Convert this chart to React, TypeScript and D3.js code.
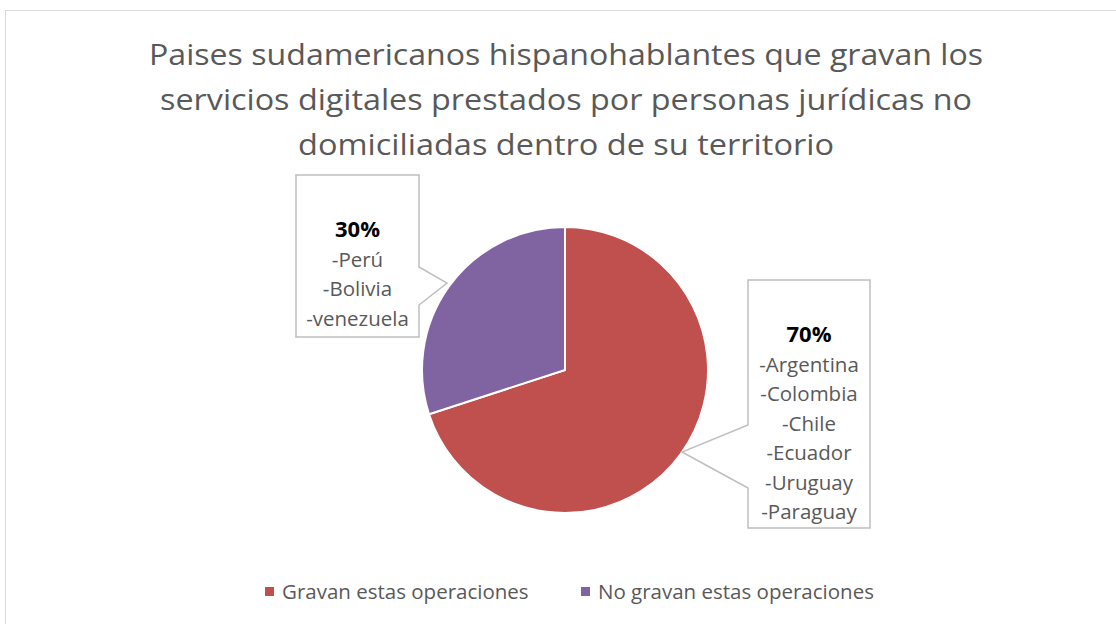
import React from "react";
import * as d3 from "d3";

const titleLines = [
  "Paises sudamericanos hispanohablantes que gravan los",
  "servicios digitales prestados por personas jurídicas no",
  "domiciliadas dentro de su territorio",
];
const categories = ["Gravan estas operaciones", "No gravan estas operaciones"];
const values = [70, 30];
const percentLabels = ["70%", "30%"];
const countryLists = [
  ["-Argentina", "-Colombia", "-Chile", "-Ecuador", "-Uruguay", "-Paraguay"],
  ["-Perú", "-Bolivia", "-venezuela"],
];
const colors = ["#C0504D", "#8064A2"];

const W = 1116;
const H = 624;
const FONT = "'Open Sans', 'Liberation Sans', sans-serif";

export default function App() {
  const cx = 565;
  const cy = 370;
  const r = 143;
  const pie = d3.pie<number>().sort(null).value((d) => d);
  const arcs = pie(values);
  const arc = d3.arc<d3.PieArcDatum<number>>().innerRadius(0).outerRadius(r);

  const boxes = [
    { x: 748, y: 280, w: 122, h: 248, side: "left", p0: 425, p1: 488 },
    { x: 296, y: 175, w: 123, h: 162, side: "right", p0: 267, p1: 305 },
  ];
  const tips = [
    [682, 452],
    [447, 283],
  ];

  return (
    <svg width={W} height={H} style={{ position: "absolute", left: 0, top: 0 }}>
      <rect x={0} y={0} width={W} height={H} fill="#fff" />
      <rect x={5.5} y={10.5} width={W + 20} height={H + 20} fill="#fff" stroke="#D9D9D9" strokeWidth={1} />
      {titleLines.map((t, i) => (
        <text key={i} x={566} y={65 + i * 45} textAnchor="middle" fontFamily={FONT} fontSize={30} fill="#595959"
          textLength={[834, 812, 536][i]} lengthAdjust="spacingAndGlyphs">
          {t}
        </text>
      ))}
      <g transform={`translate(${cx},${cy})`}>
        {arcs.map((a, i) => (
          <path key={i} d={arc(a) || ""} fill={colors[i]} stroke="#fff" strokeWidth={2} />
        ))}
      </g>
      {boxes.map((b, i) => {
        const [tx, ty] = tips[i];
        const d =
          b.side === "left"
            ? `M${b.x},${b.y} H${b.x + b.w} V${b.y + b.h} H${b.x} V${b.p1} L${tx},${ty} L${b.x},${b.p0} Z`
            : `M${b.x},${b.y} H${b.x + b.w} V${b.p0} L${tx},${ty} L${b.x + b.w},${b.p1} V${b.y + b.h} H${b.x} Z`;
        const lines = countryLists[i];
        const centerX = b.x + b.w / 2;
        const startY = i === 0 ? 342 : 237;
        return (
          <g key={i}>
            <path d={d} fill="#fff" stroke="#BFBFBF" strokeWidth={1.5} />
            <text x={centerX} y={startY} textAnchor="middle" fontFamily={FONT} fontSize={22} fontWeight="bold" fill="#000">
              {percentLabels[i]}
            </text>
            {lines.map((l, j) => (
              <text key={j} x={centerX} y={startY + 29.5 * (j + 1)} textAnchor="middle" fontFamily={FONT} fontSize={20.5} fill="#595959">
                {l}
              </text>
            ))}
          </g>
        );
      })}
      {categories.map((c, i) => {
        const x0 = [265, 581][i];
        return (
          <g key={i}>
            <rect x={x0} y={587} width={9} height={9} fill={colors[i]} />
            <text x={x0 + 17} y={599} fontFamily={FONT} fontSize={20.5} fill="#595959">
              {c}
            </text>
          </g>
        );
      })}
    </svg>
  );
}
